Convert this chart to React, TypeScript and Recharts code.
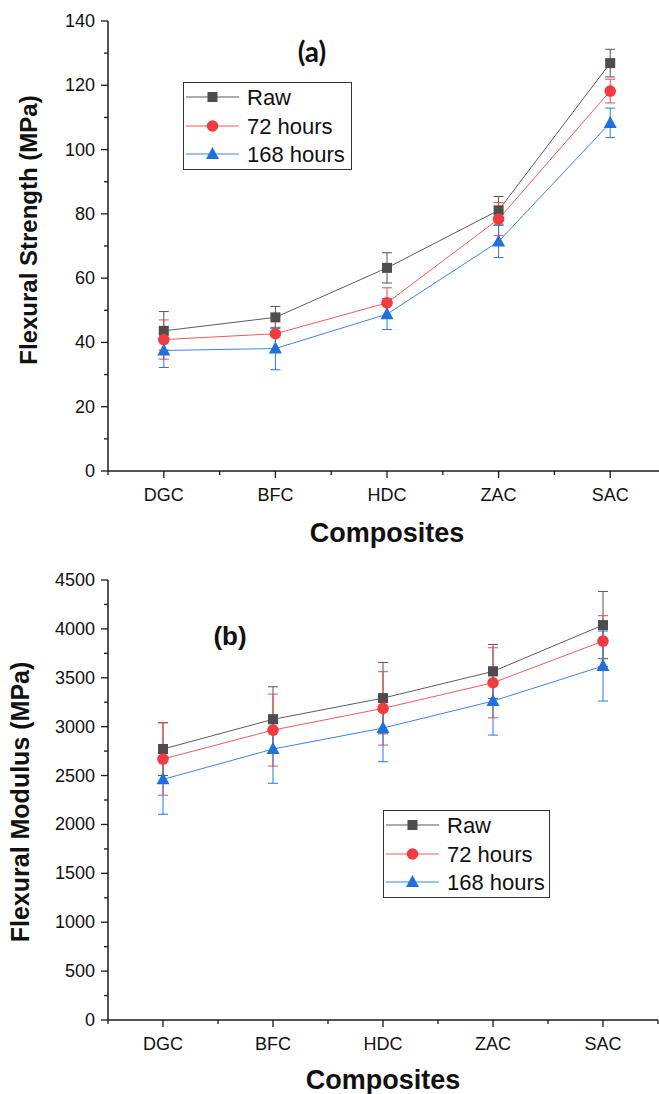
import React from 'react';
import { LineChart, Line, XAxis, YAxis, ErrorBar, Legend } from 'recharts';

// composites along the x axis
const categories = ['DGC', 'BFC', 'HDC', 'ZAC', 'SAC'];

// (a) flexural strength, MPa
const strengthRaw = [43.6, 47.8, 63.2, 81.1, 126.9];
const strengthRawErr = [6.0, 3.4, 4.7, 4.3, 4.3];
const strength72 = [40.9, 42.7, 52.3, 78.4, 118.2];
const strength72Err = [6.1, 5.5, 4.7, 5.1, 3.7];
const strength168 = [37.5, 38.1, 48.8, 71.4, 108.3];
const strength168Err = [5.3, 6.6, 4.8, 5.0, 4.6];

// (b) flexural modulus, MPa
const modulusRaw = [2771, 3075, 3292, 3565, 4039];
const modulusRawErr = [270, 333, 365, 276, 344];
const modulus72 = [2669, 2965, 3187, 3449, 3875];
const modulus72Err = [370, 368, 375, 358, 260];
const modulus168 = [2461, 2771, 2986, 3262, 3620];
const modulus168Err = [357, 350, 345, 348, 358];

const strengthTicks = [0, 10, 20, 30, 40, 50, 60, 70, 80, 90, 100, 110, 120, 130, 140];
const modulusTicks = [0, 250, 500, 750, 1000, 1250, 1500, 1750, 2000, 2250, 2500, 2750, 3000, 3250, 3500, 3750, 4000, 4250, 4500];
const xTicks = [0.5, 1, 1.5, 2, 2.5, 3, 3.5, 4, 4.5, 5, 5.5];

const FONT = '"Liberation Sans", Arial, Helvetica, sans-serif';
const AXIS = '#1a1a1a';

const series = [
  { key: 'raw', name: 'Raw', shape: 'square', line: '#5c5c5c', bar: '#555555', fill: '#4d4d4d' },
  { key: 'h72', name: '72 hours', shape: 'circle', line: '#f25a5a', bar: '#f04848', fill: '#f03c3f' },
  { key: 'h168', name: '168 hours', shape: 'triangle', line: '#3a86e8', bar: '#2a78e0', fill: '#1f6fde' }
];

const buildRows = (a: number[], aErr: number[], b: number[], bErr: number[], c: number[], cErr: number[]) =>
  categories.map((name, i) => ({
    x: i + 1,
    name,
    raw: a[i],
    rawErr: aErr[i],
    h72: b[i],
    h72Err: bErr[i],
    h168: c[i],
    h168Err: cErr[i]
  }));

const strengthRows = buildRows(strengthRaw, strengthRawErr, strength72, strength72Err, strength168, strength168Err);
const modulusRows = buildRows(modulusRaw, modulusRawErr, modulus72, modulus72Err, modulus168, modulus168Err);

const Marker = ({ shape, cx, cy, fill }: { shape: string; cx: number; cy: number; fill: string }) => {
  if (shape === 'square') return <rect x={cx - 5} y={cy - 5} width={10} height={10} fill={fill} />;
  if (shape === 'circle') return <circle cx={cx} cy={cy} r={5.8} fill={fill} />;
  return <polygon points={`${cx},${cy - 7} ${cx - 6.5},${cy + 5} ${cx + 6.5},${cy + 5}`} fill={fill} />;
};

const makeYTick = (labelStep: number) => (props: any) => {
  const { x, y, payload } = props;
  const major = payload.value % labelStep === 0;
  return (
    <g>
      <line x1={x - (major ? 7 : 4)} x2={x} y1={y} y2={y} stroke={AXIS} strokeWidth={1.3} />
      {major && (
        <text x={x - 13} y={y} textAnchor="end" dominantBaseline="central" fontSize={18} fontFamily={FONT} fill="#111">
          {payload.value}
        </text>
      )}
    </g>
  );
};

const XTick = (props: any) => {
  const { x, y, payload } = props;
  const major = Number.isInteger(payload.value);
  return (
    <g>
      <line x1={x} x2={x} y1={y} y2={y + (major ? 7 : 4)} stroke={AXIS} strokeWidth={1.3} />
      {major && (
        <text x={x} y={y + 24} textAnchor="middle" dominantBaseline="central" fontSize={18} fontFamily={FONT} fill="#111">
          {categories[payload.value - 1]}
        </text>
      )}
    </g>
  );
};

const LegendBox = ({ w, h, rowsY, lineEnd, textX }: { w: number; h: number; rowsY: number[]; lineEnd: number; textX: number }) => (
  <svg width={w} height={h} style={{ display: 'block' }}>
    <rect x={0.5} y={0.5} width={w - 1} height={h - 1} fill="#fff" stroke="#333" strokeWidth={1} />
    {series.map((s, i) => (
      <g key={s.key}>
        <line x1={3} x2={lineEnd} y1={rowsY[i]} y2={rowsY[i]} stroke={s.line} strokeWidth={1.2} />
        <Marker shape={s.shape} cx={(3 + lineEnd) / 2} cy={rowsY[i]} fill={s.fill} />
        <text x={textX} y={rowsY[i]} dominantBaseline="central" fontSize={22} fontFamily={FONT} fill="#111">
          {s.name}
        </text>
      </g>
    ))}
  </svg>
);

interface PanelProps {
  rows: any[];
  width: number;
  height: number;
  margin: { top: number; right: number; bottom: number; left: number };
  xAxisHeight: number;
  yMax: number;
  yTicks: number[];
  labelStep: number;
  yTitle: string;
  yTitleX: number;
  yTitleY: number;
  yTitleSize: number;
  tag: string;
  tagX: number;
  tagY: number;
  tagFont: string;
  tagSize: number;
  xTitleX: number;
  xTitleY: number;
  legendLeft: number;
  legendTop: number;
  legendW: number;
}

const Panel = (p: PanelProps) => (
  <LineChart width={p.width} height={p.height} data={p.rows} margin={p.margin}>
    <XAxis
      xAxisId="b"
      dataKey="x"
      type="number"
      domain={[0.5, 5.5]}
      ticks={xTicks}
      interval={0}
      allowDataOverflow
      height={p.xAxisHeight}
      tickSize={0}
      tickMargin={0}
      tickLine={false}
      axisLine={{ stroke: AXIS, strokeWidth: 1.5 }}
      tick={XTick}
    />
    <XAxis xAxisId="t" orientation="top" type="number" domain={[0.5, 5.5]} height={0} tick={false} tickLine={false} axisLine={{ stroke: AXIS, strokeWidth: 1.5 }} />
    <YAxis
      yAxisId="l"
      type="number"
      domain={[0, p.yMax]}
      ticks={p.yTicks}
      interval={0}
      width={108}
      tickSize={0}
      tickMargin={0}
      tickLine={false}
      axisLine={{ stroke: AXIS, strokeWidth: 1.5 }}
      tick={makeYTick(p.labelStep)}
    />
    <YAxis yAxisId="r" orientation="right" type="number" domain={[0, p.yMax]} width={0} tick={false} tickLine={false} axisLine={{ stroke: AXIS, strokeWidth: 1.5 }} />
    {series.map((s) => (
      <Line
        key={s.key}
        xAxisId="b"
        yAxisId="l"
        dataKey={s.key}
        name={s.name}
        stroke={s.line}
        strokeWidth={1}
        isAnimationActive={false}
        activeDot={false}
        dot={(d: any) => <Marker key={`${s.key}-${d.index}`} shape={s.shape} cx={d.cx} cy={d.cy} fill={s.fill} />}
      >
        <ErrorBar dataKey={`${s.key}Err`} direction="y" width={5} stroke={s.bar} strokeWidth={1} isAnimationActive={false} />
      </Line>
    ))}
    <Legend
      layout="vertical"
      align="center"
      verticalAlign="middle"
      wrapperStyle={{ left: p.legendLeft, top: p.legendTop, width: p.legendW, height: 88 }}
      content={() => <LegendBox w={p.legendW} h={88} rowsY={[15, 44, 72]} lineEnd={56} textX={64} />}
    />
    <text x={p.tagX} y={p.tagY} textAnchor="middle" dominantBaseline="central" fontSize={p.tagSize} fontWeight="bold" fontFamily={p.tagFont} fill="#111">
      {p.tag}
    </text>
    <text
      x={p.yTitleX}
      y={p.yTitleY}
      textAnchor="middle"
      dominantBaseline="central"
      fontSize={p.yTitleSize}
      fontWeight="bold"
      fontFamily={FONT}
      fill="#111"
      transform={`rotate(-90 ${p.yTitleX} ${p.yTitleY})`}
    >
      {p.yTitle}
    </text>
    <text x={p.xTitleX} y={p.xTitleY} textAnchor="middle" dominantBaseline="central" fontSize={27} fontWeight="bold" fontFamily={FONT} fill="#111">
      Composites
    </text>
  </LineChart>
);

export default function App() {
  return (
    <div style={{ position: 'absolute', left: 0, top: 0, width: 659, height: 1094, overflow: 'hidden', background: '#fff' }}>
      <div style={{ position: 'absolute', left: 0, top: 0 }}>
        <Panel
          rows={strengthRows}
          width={680}
          height={560}
          margin={{ top: 21, right: 14, bottom: 0, left: 0 }}
          xAxisHeight={89}
          yMax={140}
          yTicks={strengthTicks}
          labelStep={20}
          yTitle="Flexural Strength (MPa)"
          yTitleX={28}
          yTitleY={230}
          yTitleSize={24}
          tag="(a)"
          tagX={312}
          tagY={51}
          tagFont="Lato, 'Open Sans', sans-serif"
          tagSize={28}
          xTitleX={387}
          xTitleY={533}
          legendLeft={183}
          legendTop={82}
          legendW={169}
        />
      </div>
      <div style={{ position: 'absolute', left: 0, top: 560 }}>
        <Panel
          rows={modulusRows}
          width={659}
          height={534}
          margin={{ top: 20, right: 1, bottom: 0, left: 0 }}
          xAxisHeight={74}
          yMax={4500}
          yTicks={modulusTicks}
          labelStep={500}
          yTitle="Flexural Modulus (MPa)"
          yTitleX={20}
          yTitleY={242}
          yTitleSize={25}
          tag="(b)"
          tagX={230}
          tagY={76}
          tagFont={FONT}
          tagSize={26}
          xTitleX={383}
          xTitleY={520}
          legendLeft={383}
          legendTop={250}
          legendW={167}
        />
      </div>
    </div>
  );
}
